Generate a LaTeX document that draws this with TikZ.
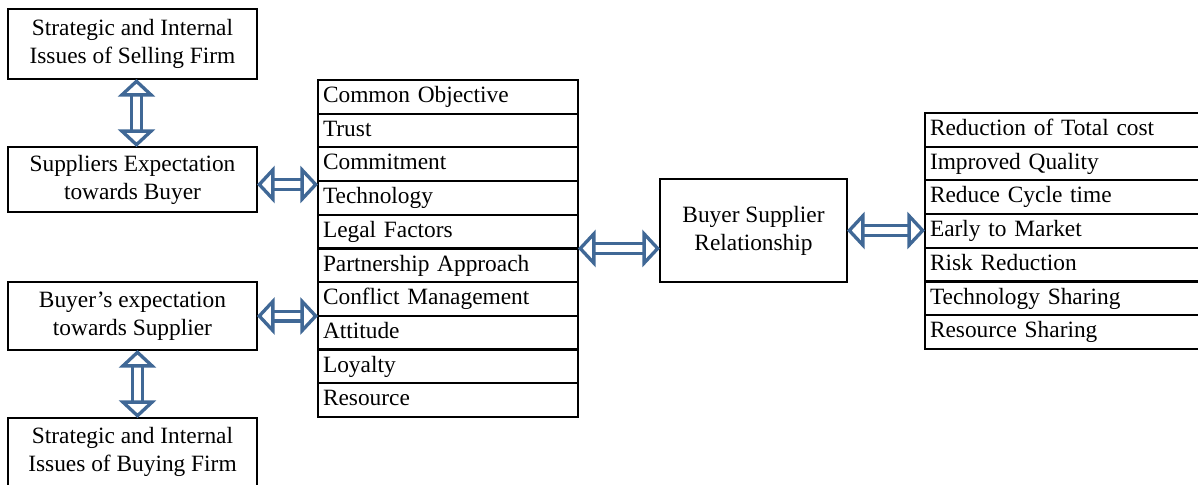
\documentclass[tikz,border=0pt]{standalone}
\usepackage{fontspec}
\setmainfont{Liberation Serif}
\usetikzlibrary{positioning,arrows.meta,calc}
\definecolor{linkblue}{RGB}{64,104,150}

\tikzset{
  issuebox/.style={draw, line width=1.2pt, align=center, minimum width=4.98cm,
    minimum height=1.36cm, outer sep=0pt, font=\fontsize{13.3}{16}\selectfont},
  listrow/.style={draw, line width=1.2pt, minimum height=0.674cm, inner ysep=1pt,
    inner xsep=0.1cm, outer sep=0pt, align=left, text height=9.5pt, text depth=3pt,
    font=\fontsize{13.3}{16}\selectfont},
  linkhead/.tip={Triangle[open, length=10pt, width=21pt, line width=1.9pt, fill=white]},
  linkarrow/.style={draw=linkblue, line width=1.9pt, double=white, double distance=3.6pt,
    linkhead-linkhead}
}

\begin{document}
\begin{tikzpicture}[x=0.02cm, y=-0.02cm]
    \useasboundingbox (0,0) rectangle (1198,484);

    % left column: firms and expectations
    \node[issuebox, minimum height=1.4cm] (sellfirm) at (132.5,44) {Strategic and Internal\\Issues of Selling Firm};
    \node[issuebox, minimum height=1.3cm] (supexp) at (132.5,179.5) {Suppliers Expectation\\towards Buyer};
    \node[issuebox] (buyexp) at (132.5,316) {Buyer's expectation\\towards Supplier};
    \node[issuebox] (buyfirm) at (132.5,452) {Strategic and Internal\\Issues of Buying Firm};

    % middle list of factors
    \node[listrow, text width=5.0cm, anchor=north west] (m1) at (318,80) {Common Objective};
    \foreach \t [count=\i from 2] in {Trust, Commitment, Technology, Legal Factors, Partnership Approach, Conflict Management, Attitude, Loyalty, Resource} {
        \pgfmathtruncatemacro\j{\i-1}
        \node[listrow, text width=5.0cm, below=0pt of m\j] (m\i) {\t};
    }

    % relationship
    \node[issuebox, minimum width=3.74cm, minimum height=2.06cm] (bsr) at (753.5,230.5) {Buyer Supplier\\Relationship};

    % right list of benefits
    \node[listrow, text width=5.6cm, anchor=north west] (q1) at (925,113) {Reduction of Total cost};
    \foreach \t [count=\i from 2] in {Improved Quality, Reduce Cycle time, Early to Market, Risk Reduction, Technology Sharing, Resource Sharing} {
        \pgfmathtruncatemacro\j{\i-1}
        \node[listrow, text width=5.6cm, below=0pt of q\j] (q\i) {\t};
    }

    % connectors
    \coordinate (supout) at ($(supexp.east)+(0,5)$);
    \coordinate (sellout) at ($(sellfirm.south)+(4,0)$);
    \coordinate (buyout) at ($(buyexp.south)+(5,0)$);
    \draw[linkarrow] (sellout) -- (sellout |- supexp.north);
    \draw[linkarrow] (buyout) -- (buyout |- buyfirm.north);
    \draw[linkarrow] (supout) -- (supout -| m1.west);
    \draw[linkarrow] (buyexp.east) -- (buyexp.east -| m1.west);
    \draw[linkarrow] (m5.south east) -- (m5.south east -| bsr.west);
    \draw[linkarrow] (bsr.east) -- (bsr.east -| q1.west);
\end{tikzpicture}
\end{document}
